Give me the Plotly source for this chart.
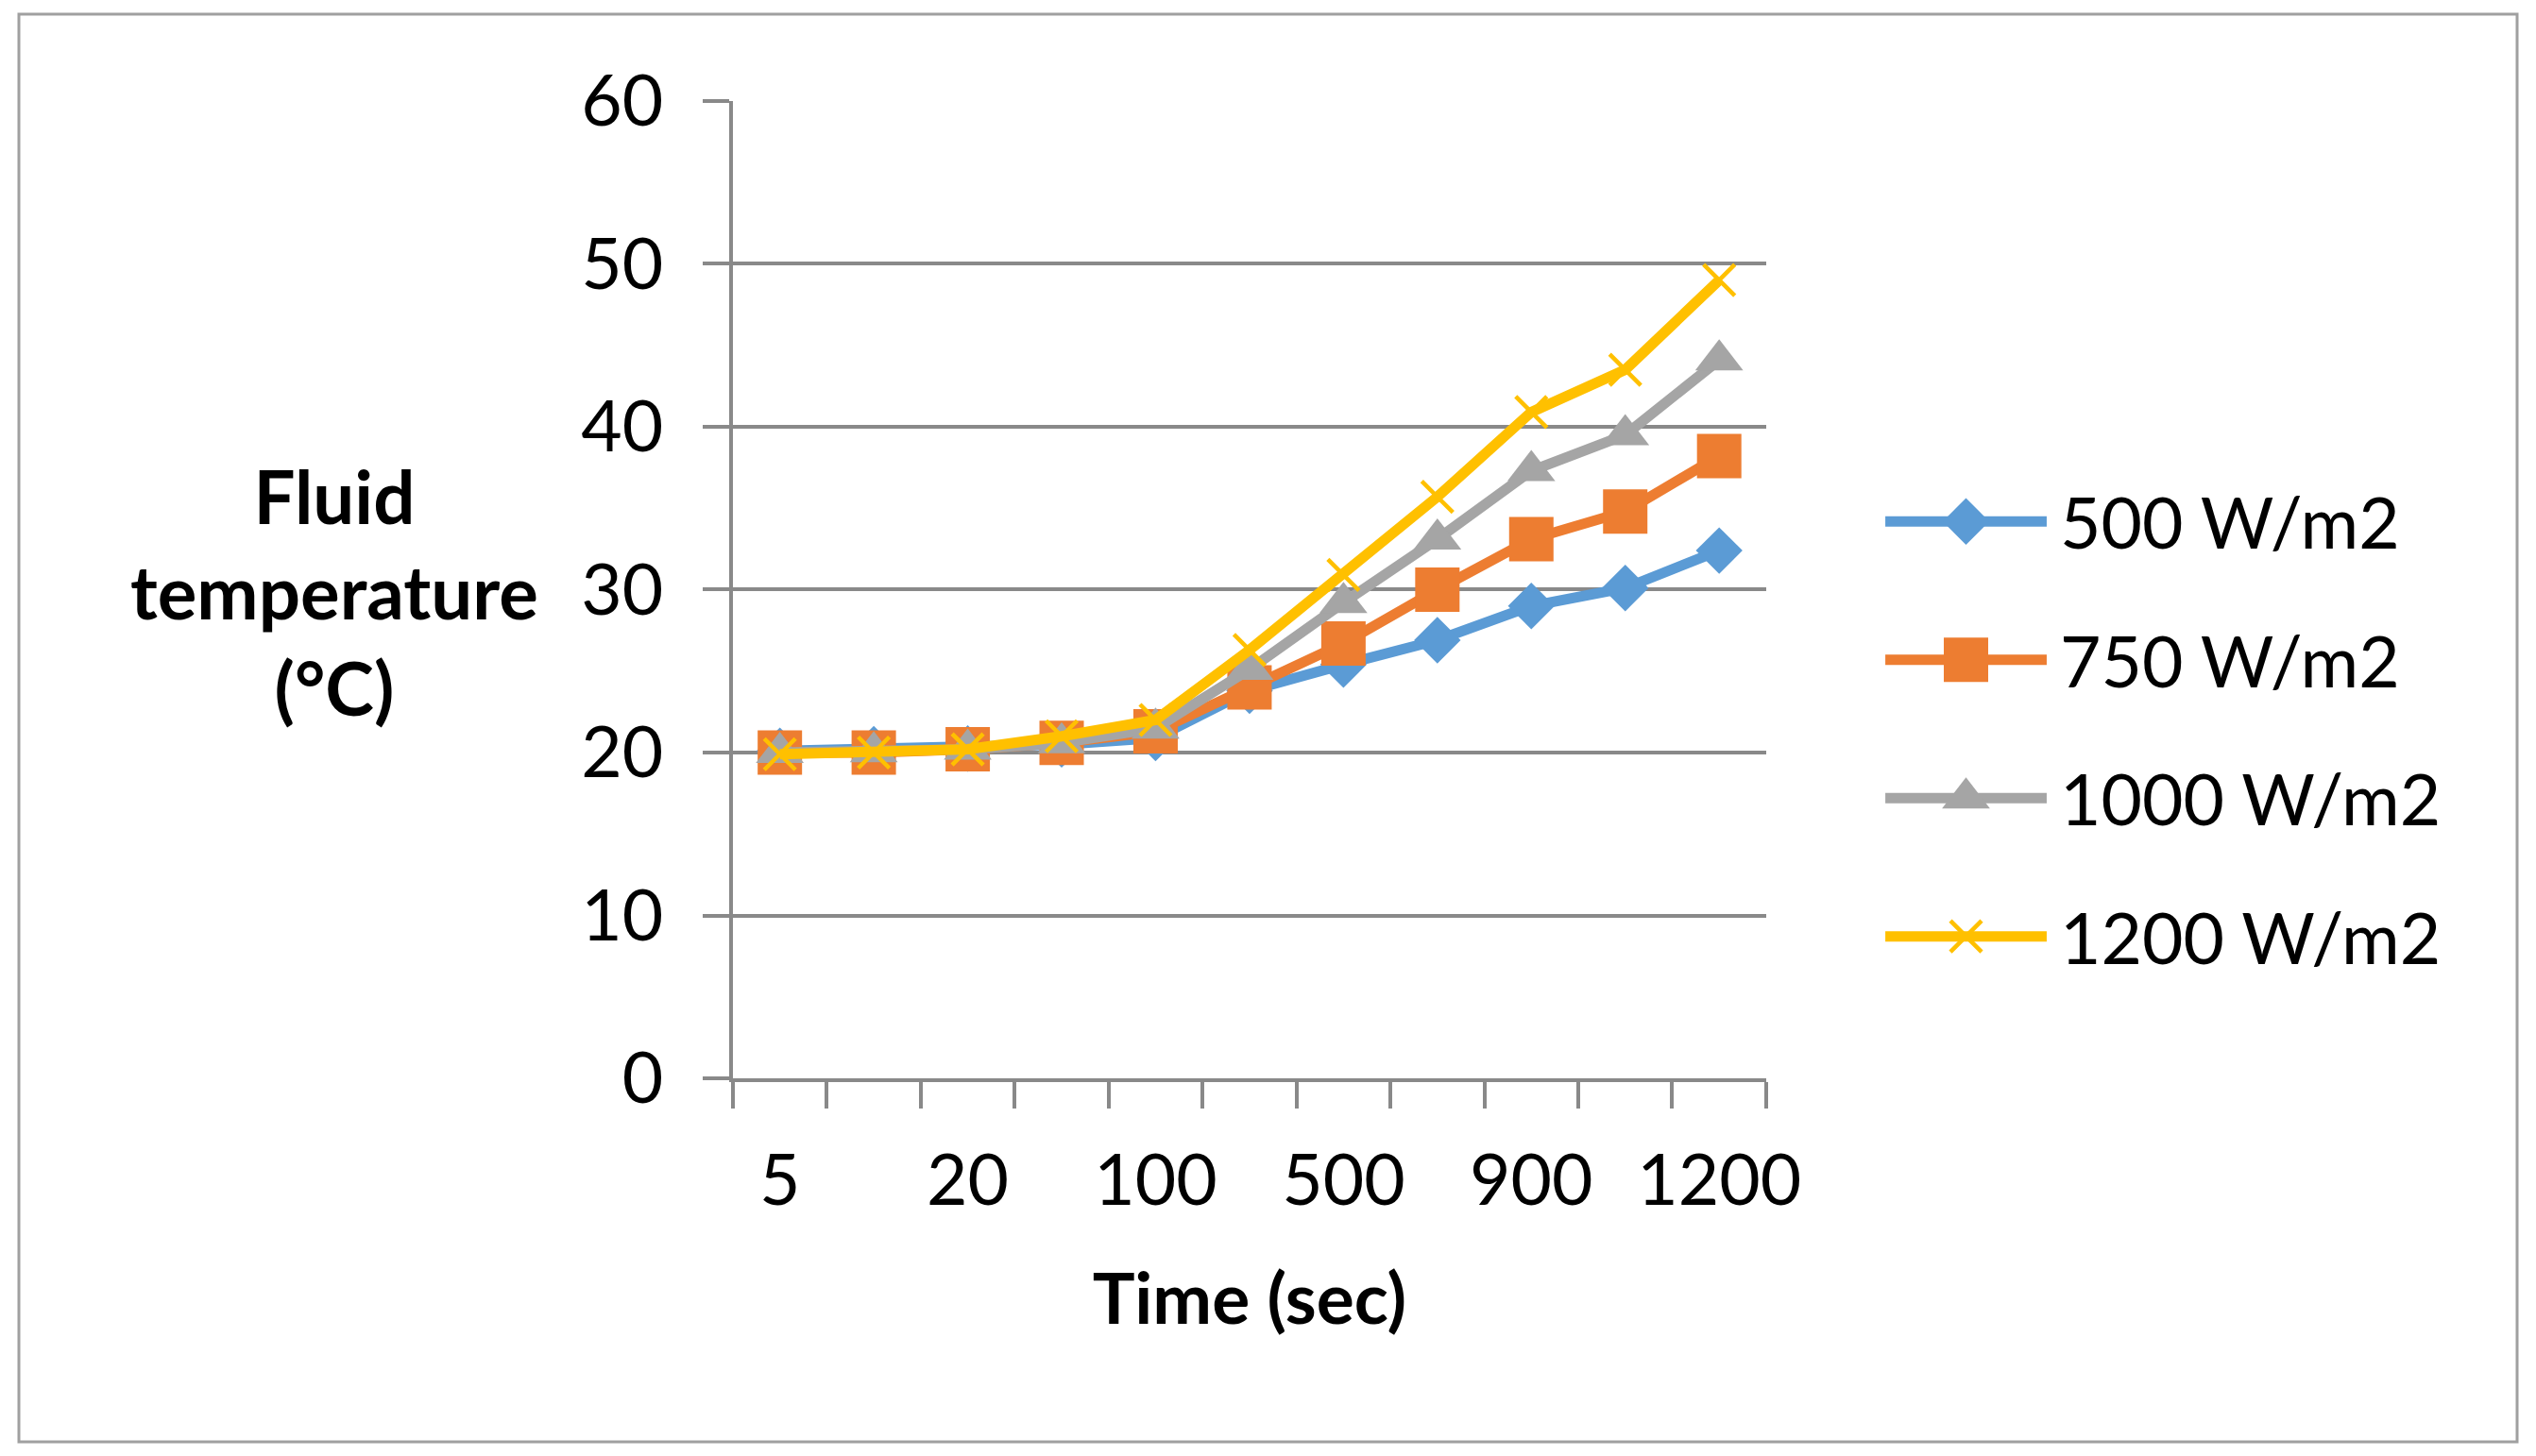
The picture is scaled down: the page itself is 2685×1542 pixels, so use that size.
import plotly.graph_objects as go

# time steps (only every other label is printed on the axis, like the original)
time_labels = ["5", "10", "20", "50", "100", "300", "500", "700", "900", "1100", "1200"]
shown_labels = ["5", "20", "100", "500", "900", "1200"]

# fluid temperature (°C) for each irradiance level
temp_500 = [20.1, 20.2, 20.25, 20.5, 20.9, 23.8, 25.4, 26.9, 29.0, 30.1, 32.4]
temp_750 = [20.0, 20.0, 20.2, 20.6, 21.3, 24.0, 26.7, 30.0, 33.1, 34.8, 38.2]
temp_1000 = [20.0, 20.05, 20.2, 20.6, 21.5, 25.1, 29.2, 33.1, 37.3, 39.5, 44.1]
temp_1200 = [19.9, 20.0, 20.2, 21.0, 22.0, 26.3, 30.9, 35.7, 40.9, 43.5, 49.0]

series_names = ["500 W/m2", "750 W/m2", "1000 W/m2", "1200 W/m2"]

colors = ["#5B9BD5", "#ED7D31", "#A5A5A5", "#FFC000"]
symbols = ["diamond", "square", "triangle-up", "x-thin"]
msizes = [38, 47, 44, 33]

FONT = "Lato"
GRID = "#898989"

fig = go.Figure()

series = [temp_500, temp_750, temp_1000, temp_1200]
for i, (name, vals) in enumerate(zip(series_names, series)):
    col = colors[i]
    if symbols[i] == "x-thin":
        mk = dict(symbol=symbols[i], size=msizes[i], color=col, line=dict(width=4.5, color=col))
    else:
        mk = dict(symbol=symbols[i], size=msizes[i], color=col, line=dict(width=0))
    fig.add_trace(go.Scatter(x=time_labels, y=vals, name=name, mode="lines+markers",
                             line=dict(color=col, width=11), marker=mk, showlegend=False))
    # hand made legend (plotly caps legend symbol sizes)
    fig.add_trace(go.Scatter(x=[0, 1], y=[i, i], xaxis="x2", yaxis="y2", mode="lines",
                             line=dict(color=col, width=11), showlegend=False,
                             hoverinfo="skip", cliponaxis=False))
    fig.add_trace(go.Scatter(x=[0.5], y=[i], xaxis="x2", yaxis="y2", mode="markers",
                             marker=mk, showlegend=False, hoverinfo="skip", cliponaxis=False))
    fig.add_annotation(x=1, y=i, xref="x2", yref="y2", text=name, showarrow=False,
                       xanchor="left", yanchor="middle", xshift=12,
                       font=dict(family=FONT, size=75, color="black"))

fig.add_annotation(x=0.1263, y=0.5955, xref="paper", yref="paper",
                   text="<b>Fluid<br>temperature<br>(°C)</b>", showarrow=False,
                   xanchor="center", yanchor="middle", align="center",
                   font=dict(family=FONT, size=78, color="black"))

fig.update_layout(
    width=2685, height=1542,
    margin=dict(l=20, r=20, t=15, b=15, autoexpand=False),
    paper_bgcolor="white", plot_bgcolor="white",
    font=dict(family=FONT, size=75, color="black"),
    xaxis=dict(type="category", domain=[0.2858, 0.6994], range=[-0.5, 10.5],
               tickvals=time_labels,
               ticktext=[t if t in shown_labels else "" for t in time_labels],
               tickangle=0, automargin=False, ticklabelstandoff=40,
               tickson="boundaries", ticks="outside", ticklen=28, tickwidth=3.5, tickcolor=GRID,
               showline=True, linecolor=GRID, linewidth=3.5, showgrid=False,
               tickfont=dict(family=FONT, size=75),
               title=dict(text="<b>Time (sec)</b>", font=dict(family=FONT, size=75), standoff=60)),
    yaxis=dict(domain=[0.2546, 0.9392], range=[0, 60], dtick=10, automargin=False,
               ticks="outside", ticklen=28, tickwidth=3.5, tickcolor=GRID,
               showgrid=True, gridcolor=GRID, gridwidth=3.5,
               showline=True, linecolor=GRID, linewidth=3.5, zeroline=False,
               tickfont=dict(family=FONT, size=75), ticklabelstandoff=27),
    xaxis2=dict(domain=[0.7471, 0.8117], range=[0, 1], visible=False, anchor="y2"),
    yaxis2=dict(domain=[0.3492, 0.6495], range=[3.05, -0.05], visible=False, anchor="x2"),
    shapes=[dict(type="rect", xref="paper", yref="paper", x0=0, x1=1, y0=0, y1=1,
                 line=dict(color="#A0A0A0", width=3), layer="below")],
)

fig.write_html("out.html", config={"displayModeBar": False},
               post_script="document.body.style.margin='0';")
